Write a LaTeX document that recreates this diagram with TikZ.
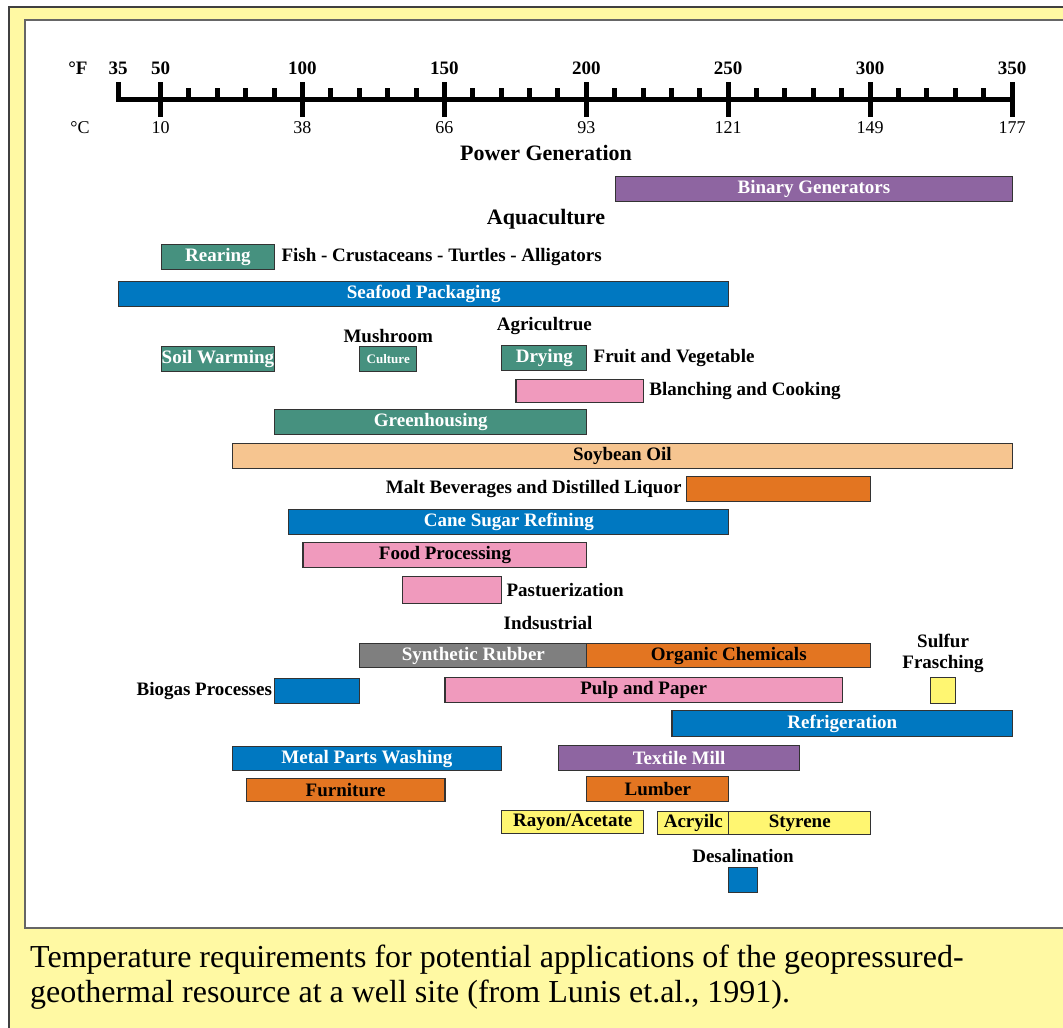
\documentclass[tikz,border=0pt]{standalone}
\usepackage{fontspec}
\setmainfont{Liberation Serif}
\usetikzlibrary{positioning}
\definecolor{bingkai}{HTML}{FFF9A3}
\definecolor{hijau}{HTML}{46917F}
\definecolor{biru}{HTML}{0078C1}
\definecolor{ungu}{HTML}{8E65A1}
\definecolor{jambu}{HTML}{F09ABD}
\definecolor{krem}{HTML}{F6C590}
\definecolor{jingga}{HTML}{E37521}
\definecolor{abu}{HTML}{7F7F7F}
\definecolor{kuning}{HTML}{FFF671}
\tikzset{
  batang/.style={draw=black!80, line width=1.2pt, inner sep=0pt, minimum height=25pt,
    anchor=north west, font=\fontsize{19}{21}\selectfont\bfseries},
  putih/.style={text=white},
  teks/.style={inner sep=1pt, font=\fontsize{19}{21}\selectfont\bfseries},
  judul/.style={inner sep=1pt, font=\fontsize{22}{24}\selectfont\bfseries},
  angka/.style={font=\fontsize{18}{20}\selectfont},
}
\newcommand{\batang}[6]{%
  \pgfmathsetmacro\lebar{(#4-#3)*2.8381}
  \node[batang,#2,minimum width=\lebar pt] (#1) at (#3,#5) {#6};}

\begin{document}
\begin{tikzpicture}[x=1pt,y=-1pt]
  \useasboundingbox (0,0) rectangle (1063,1028);
  \fill[white] (0,0) rectangle (1063,1028);
  \filldraw[fill=bingkai,draw=black!75,line width=1.2pt] (9,7) rectangle (1080,1040);
  \filldraw[fill=white,draw=black!60,line width=2pt] (25,20) rectangle (1080,928);

  % skala suhu
  \node[teks] (fahr) at (78,68) {°F};
  \node[angka] (cels) at (80,128) {°C};
  \begin{scope}[x=2.8381pt,xshift=18.67pt]
    \draw[line width=5pt,line join=miter] (35,82) -- (35,99) -- (350,99);
    \foreach \f in {50,100,...,350}
      \draw[line width=5pt] (\f,82) -- (\f,117);
    \foreach \f in {50,100,...,300}
      \foreach \d in {10,20,30,40}
        \draw[line width=5pt] (\f+\d,88) -- (\f+\d,99);
    \foreach \f in {35,50,100,150,200,250,300,350}
      \node[teks] (f\f) at (\f,68) {\f};
    \foreach \f/\c in {50/10,100/38,150/66,200/93,250/121,300/149,350/177}
      \node[angka] (c\c) at (\f,128) {\c};

    \batang{binary}{fill=ungu,putih}{210}{350}{176}{Binary Generators}
    \batang{rearing}{fill=hijau,putih}{50}{90}{244}{Rearing}
    \batang{seafood}{fill=biru,putih}{35}{250}{281}{Seafood Packaging}
    \batang{soil}{fill=hijau,putih}{50}{90}{346}{Soil Warming}
    \batang{culture}{fill=hijau,putih,font=\fontsize{13}{14}\selectfont\bfseries}{120}{140}{346}{Culture}
    \batang{drying}{fill=hijau,putih}{170}{200}{345}{Drying}
    \batang{blanch}{fill=jambu,minimum height=23pt}{175}{220}{379}{}
    \batang{green}{fill=hijau,putih}{90}{200}{409}{Greenhousing}
    \batang{soybean}{fill=krem}{75}{350}{443}{Soybean Oil}
    \batang{malt}{fill=jingga}{235}{300}{476}{}
    \batang{cane}{fill=biru,putih}{95}{250}{509}{Cane Sugar Refining}
    \batang{food}{fill=jambu}{100}{200}{542}{Food Processing}
    \batang{pasteur}{fill=jambu,minimum height=27pt}{135}{170}{576}{}
    \batang{rubber}{fill=abu,putih,minimum height=24pt}{120}{200}{643}{Synthetic Rubber}
    \batang{organic}{fill=jingga,minimum height=24pt}{200}{300}{643}{Organic Chemicals}
    \batang{biogas}{fill=biru}{90}{120}{678}{}
    \batang{pulp}{fill=jambu}{150}{290}{677}{Pulp and Paper}
    \batang{sulfur}{fill=kuning,minimum height=26pt}{321}{330}{677}{}
    \batang{refrig}{fill=biru,putih,minimum height=26pt}{230}{350}{710}{Refrigeration}
    \batang{metal}{fill=biru,putih,minimum height=24pt}{75}{170}{746}{Metal Parts Washing}
    \batang{textile}{fill=ungu,putih}{190}{275}{745}{Textile Mill}
    \batang{furniture}{fill=jingga,minimum height=23pt}{80}{150}{778}{Furniture}
    \batang{lumber}{fill=jingga}{200}{250}{776}{Lumber}
    \batang{rayon}{fill=kuning,minimum height=23pt}{170}{220}{810}{Rayon/Acetate}
    \batang{acrylic}{fill=kuning,minimum height=23pt}{225}{250}{811}{Acryilc}
    \batang{styrene}{fill=kuning,minimum height=23pt}{250}{300}{811}{Styrene}
    \batang{desal}{fill=biru}{250}{260}{867}{}
  \end{scope}

  \node[judul] (power) at (546,153) {Power Generation};
  \node[judul] (aqua) at (546,219) {Aquaculture};
  \node[teks,right=5pt of rearing] (fish) {Fish - Crustaceans - Turtles - Alligators};
  \node[teks,above=2pt of culture] (mushroom) {Mushroom};
  \node[teks,above=9pt of drying] (agri) {Agricultrue};
  \node[teks,right=5pt of drying] (fruit) {Fruit and Vegetable};
  \node[teks,right=4pt of blanch] (blanching) {Blanching and Cooking};
  \node[teks,left=3pt of malt] (maltlabel) {Malt Beverages and Distilled Liquor};
  \node[teks,right=3pt of pasteur] (pastlabel) {Pastuerization};
  \node[teks] (industri) at (548,623) {Indsustrial};
  \node[teks,left=1pt of biogas] (biogaslabel) {Biogas Processes};
  \node[teks,align=center,above=3pt of sulfur] (sulfurlabel) {Sulfur\\Frasching};
  \node[teks,above=3pt of desal] (desallabel) {Desalination};

  \node[anchor=west,align=left,inner sep=0pt,font=\fontsize{32}{35}\selectfont] (keterangan) at (30,977)
    {Temperature requirements for potential applications of the geopressured-\\
     geothermal resource at a well site (from Lunis et.al., 1991).};
\end{tikzpicture}
\end{document}
